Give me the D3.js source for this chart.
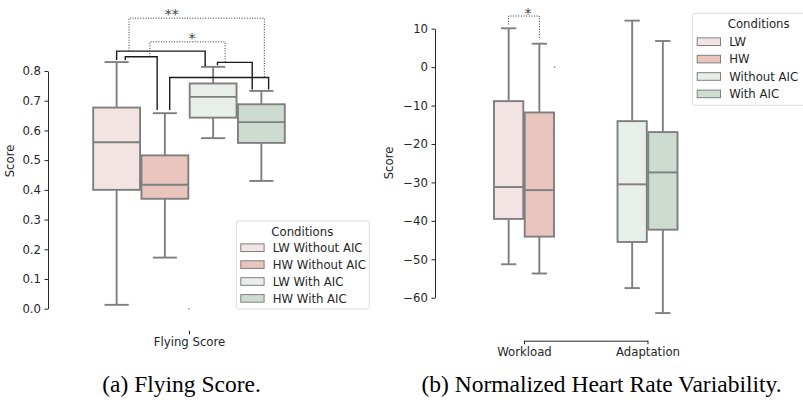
<!DOCTYPE html>
<html>
<head>
<meta charset="utf-8">
<script src="https://cdn.jsdelivr.net/npm/d3@7/dist/d3.min.js"></script>
<style>
  body { margin: 0; background: #fff; }
  svg text { font-family: "DejaVu Sans", sans-serif; fill: #262626; }
  .caption { font-family: "Liberation Serif", "Times New Roman", serif; font-size: 23.5px; fill: #000; }
</style>
</head>
<body>
<svg id="fig" width="803" height="400"></svg>
<script>
// ---- data: (a) flying score ----
const FLY_CATEGORY = ["Flying Score"];
const FLY_CONDITIONS = ["LW Without AIC", "HW Without AIC", "LW With AIC", "HW With AIC"];
const FLY_LOW = [0.013, 0.172, 0.574, 0.43];
const FLY_Q1 = [0.40, 0.37, 0.643, 0.558];
const FLY_MEDIAN = [0.56, 0.417, 0.713, 0.628];
const FLY_Q3 = [0.677, 0.516, 0.758, 0.688];
const FLY_HIGH = [0.83, 0.658, 0.814, 0.733];
const FLY_OUTLIERS = [{ cond: "HW Without AIC", value: 0.0 }];
const FLY_TICKS = [0, 0.1, 0.2, 0.3, 0.4, 0.5, 0.6, 0.7, 0.8];

// comparison brackets: ends in score units, offsets in box widths
const FLY_BRACKETS = [
  { a: "LW Without AIC", aOff: 0, aEnd: 0.837, b: "LW With AIC", bOff: -0.165, bEnd: 0.816, top: 0.867 },
  { a: "LW Without AIC", aOff: 0.18, aEnd: 0.837, b: "HW Without AIC", bOff: -0.16, bEnd: 0.669, top: 0.848 },
  { a: "LW With AIC", aOff: 0.09, aEnd: 0.819, b: "HW With AIC", bOff: -0.19, bEnd: 0.738, top: 0.829 },
  { a: "HW Without AIC", aOff: 0.10, aEnd: 0.669, b: "HW With AIC", bOff: 0.15, bEnd: 0.738, top: 0.778 }
];
const FLY_SIG = [
  { from: 0, fromAt: 0.14, to: 3, toAt: 0.957, level: 0.978, label: "**", labelAt: 0.315 },
  { from: 1, fromAt: 0.77, to: 2, toAt: 0.22, level: 0.898, label: "*", labelAt: 0.56 }
];

// ---- data: (b) heart rate variability ----
const HRV_PHASES = ["Workload", "Adaptation"];
const HRV_GROUPS = [["LW", "HW"], ["Without AIC", "With AIC"]];
const HRV_LEGEND = ["LW", "HW", "Without AIC", "With AIC"];
const HRV_LOW = [[-51.3, -53.7], [-57.5, -64.0]];
const HRV_Q1 = [[-39.5, -44.1], [-45.5, -42.3]];
const HRV_MEDIAN = [[-31.2, -32.0], [-30.5, -27.4]];
const HRV_Q3 = [[-8.85, -11.8], [-14.05, -16.9]];
const HRV_HIGH = [[10.1, 6.1], [12.1, 6.8]];
const HRV_OUTLIERS = [{ phase: "Workload", idx: 1, value: 0 }];
const HRV_TICKS = [10, 0, -10, -20, -30, -40, -50, -60];
const HRV_SIG = [{ phase: "Workload", aEnd: 11.1, bEnd: 7.4, level: 13.3, label: "*", labelAt: 0.63 }];

const FILLS = ["#f2e4e2", "#e9c5bd", "#e8eee9", "#cddbd0"];
const EDGE = "#7f7f7f";
const INK = "#262626";
const FS = "11.7px";

const svg = d3.select("#fig");

function styleAxis(g) {
  g.attr("font-family", null).attr("font-size", null);
  g.selectAll("text").style("font-size", FS);
  g.selectAll("line").attr("stroke", INK);
  g.selectAll(".domain").attr("stroke", INK);
}

function drawBox(g, x0, w, s, y, fill) {
  const cx = x0 + w / 2;
  const cap = w / 2;
  const line = (xa, ya, xb, yb) => g.append("line")
    .attr("x1", xa).attr("y1", ya).attr("x2", xb).attr("y2", yb)
    .attr("stroke", EDGE).attr("stroke-width", 1.9);
  line(cx, y(s.q3), cx, y(s.high));
  line(cx, y(s.q1), cx, y(s.low));
  line(cx - cap / 2, y(s.high), cx + cap / 2, y(s.high));
  line(cx - cap / 2, y(s.low), cx + cap / 2, y(s.low));
  g.append("rect")
    .attr("x", x0 + 0.7).attr("y", y(s.q3))
    .attr("width", w - 1.4).attr("height", y(s.q1) - y(s.q3))
    .attr("fill", fill).attr("stroke", EDGE).attr("stroke-width", 1.9);
  line(x0 + 0.7, y(s.median), x0 + w - 0.7, y(s.median));
}

function drawLegend(g, x, y, w, h, labels, rowY, step) {
  g.append("rect").attr("x", x).attr("y", y).attr("width", w).attr("height", h)
    .attr("rx", 2.5).attr("fill", "#fff").attr("fill-opacity", 0.8)
    .attr("stroke", "#dcdcdc").attr("stroke-width", 1);
  g.append("text").attr("x", x + 66).attr("y", y + 14.5)
    .attr("text-anchor", "middle").style("font-size", FS).text("Conditions");
  labels.forEach((lab, i) => {
    const cy = rowY + i * step;
    g.append("rect").attr("x", x + 4.5).attr("y", cy - 3.8).attr("width", 23.3).attr("height", 7.6)
      .attr("fill", FILLS[i]).attr("stroke", EDGE).attr("stroke-width", 1);
    g.append("text").attr("x", x + 36.5).attr("y", cy + 4.3)
      .style("font-size", FS).text(lab);
  });
}

// ================= panel (a) =================
const yL = d3.scaleLinear().domain([0, 0.8]).range([308.7, 71]);
const xL = d3.scalePoint().domain(FLY_CATEGORY).range([40, 338]).padding(0.5);
const dodgeL = d3.scaleBand().domain(FLY_CONDITIONS).range([-96.5, 96.5]);
const bwL = dodgeL.bandwidth();

const gA = svg.append("g");
gA.append("g").attr("transform", "translate(48,0)")
  .call(d3.axisLeft(yL).tickValues(FLY_TICKS).tickFormat(d3.format(".1f"))
    .tickSize(3.5).tickPadding(3.5).tickSizeOuter(0))
  .call(styleAxis);
gA.append("g").attr("transform", "translate(0,330.7)")
  .call(d3.axisBottom(xL).tickSize(3.5).tickPadding(3.5))
  .call(styleAxis)
  .call(g => g.select(".domain").remove());
gA.append("text").attr("transform", "translate(14,161) rotate(-90)")
  .attr("text-anchor", "middle").style("font-size", FS).text("Score");

FLY_CONDITIONS.forEach((c, i) => {
  drawBox(gA, xL(FLY_CATEGORY[0]) + dodgeL(c), bwL,
    { low: FLY_LOW[i], q1: FLY_Q1[i], median: FLY_MEDIAN[i], q3: FLY_Q3[i], high: FLY_HIGH[i] },
    yL, FILLS[i]);
});
FLY_OUTLIERS.forEach(o => {
  gA.append("circle").attr("cx", xL(FLY_CATEGORY[0]) + dodgeL(o.cond) + bwL)
    .attr("cy", yL(o.value)).attr("r", 0.8).attr("fill", EDGE);
});

const centerL = c => xL(FLY_CATEGORY[0]) + dodgeL(c) + bwL / 2;
const brk = FLY_BRACKETS.map(b => ({
  ax: centerL(b.a) + b.aOff * bwL, bx: centerL(b.b) + b.bOff * bwL, b
}));
brk.forEach(({ ax, bx, b }) => {
  gA.append("path")
    .attr("d", `M${ax},${yL(b.aEnd)}V${yL(b.top)}H${bx}V${yL(b.bEnd)}`)
    .attr("fill", "none").attr("stroke", "#1a1a1a").attr("stroke-width", 1.4);
});
FLY_SIG.forEach(s => {
  const p = brk[s.from], q = brk[s.to];
  const x1 = p.ax + s.fromAt * (p.bx - p.ax);
  const x2 = q.ax + s.toAt * (q.bx - q.ax);
  gA.append("path")
    .attr("d", `M${x1},${yL(p.b.top)}V${yL(s.level)}H${x2}V${yL(q.b.top)}`)
    .attr("fill", "none").attr("stroke", "#333").attr("stroke-width", 1)
    .attr("stroke-dasharray", "1,1.6");
  gA.append("text").attr("x", x1 + s.labelAt * (x2 - x1)).attr("y", yL(s.level) + 1)
    .attr("text-anchor", "middle").style("font-size", "14px").style("fill", "#444").text(s.label);
});

drawLegend(gA, 236.3, 221, 133, 88, FLY_CONDITIONS, 247.7, 16.9);

// ================= panel (b) =================
const yR = d3.scaleLinear().domain([-60, 10]).range([297.7, 28.7]);
const xR = d3.scalePoint().domain(HRV_PHASES).range([524, 647.5]);
const dodgeR = d3.scaleBand().domain([0, 1]).range([-30.7, 30.7]);
const bwR = dodgeR.bandwidth();

const gB = svg.append("g");
gB.append("g").attr("transform", "translate(435,0)")
  .call(d3.axisLeft(yR).tickValues(HRV_TICKS).tickSize(3.5).tickPadding(3.5).tickSizeOuter(0))
  .call(styleAxis);
gB.append("g").attr("transform", "translate(0,340.7)")
  .call(d3.axisBottom(xR).tickSize(3.5).tickPadding(3.5).tickSizeOuter(0))
  .call(styleAxis);
gB.append("text").attr("transform", "translate(393,163) rotate(-90)")
  .attr("text-anchor", "middle").style("font-size", FS).text("Score");

HRV_PHASES.forEach((ph, p) => {
  HRV_GROUPS[p].forEach((grp, j) => {
    drawBox(gB, xR(ph) + dodgeR(j), bwR,
      { low: HRV_LOW[p][j], q1: HRV_Q1[p][j], median: HRV_MEDIAN[p][j], q3: HRV_Q3[p][j], high: HRV_HIGH[p][j] },
      yR, FILLS[HRV_LEGEND.indexOf(grp)]);
  });
});
HRV_OUTLIERS.forEach(o => {
  gB.append("circle").attr("cx", xR(o.phase) + dodgeR(o.idx) + bwR)
    .attr("cy", yR(o.value)).attr("r", 0.8).attr("fill", EDGE);
});
HRV_SIG.forEach(s => {
  const x1 = xR(s.phase) + dodgeR(0) + bwR / 2;
  const x2 = xR(s.phase) + dodgeR(1) + bwR / 2;
  gB.append("path")
    .attr("d", `M${x1},${yR(s.aEnd)}V${yR(s.level)}H${x2}V${yR(s.bEnd)}`)
    .attr("fill", "none").attr("stroke", "#333").attr("stroke-width", 1)
    .attr("stroke-dasharray", "1,1.6");
  gB.append("text").attr("x", x1 + s.labelAt * (x2 - x1)).attr("y", yR(s.level) + 2)
    .attr("text-anchor", "middle").style("font-size", "14px").style("fill", "#444").text(s.label);
});

drawLegend(gB, 692.7, 13.3, 125, 92, HRV_LEGEND, 41.7, 17.4);

// ---- captions ----
svg.append("text").attr("class", "caption").attr("x", 181.5).attr("y", 392)
  .attr("text-anchor", "middle").text("(a) Flying Score.");
svg.append("text").attr("class", "caption").attr("x", 601.5).attr("y", 392)
  .attr("text-anchor", "middle").text("(b) Normalized Heart Rate Variability.");
</script>
</body>
</html>
